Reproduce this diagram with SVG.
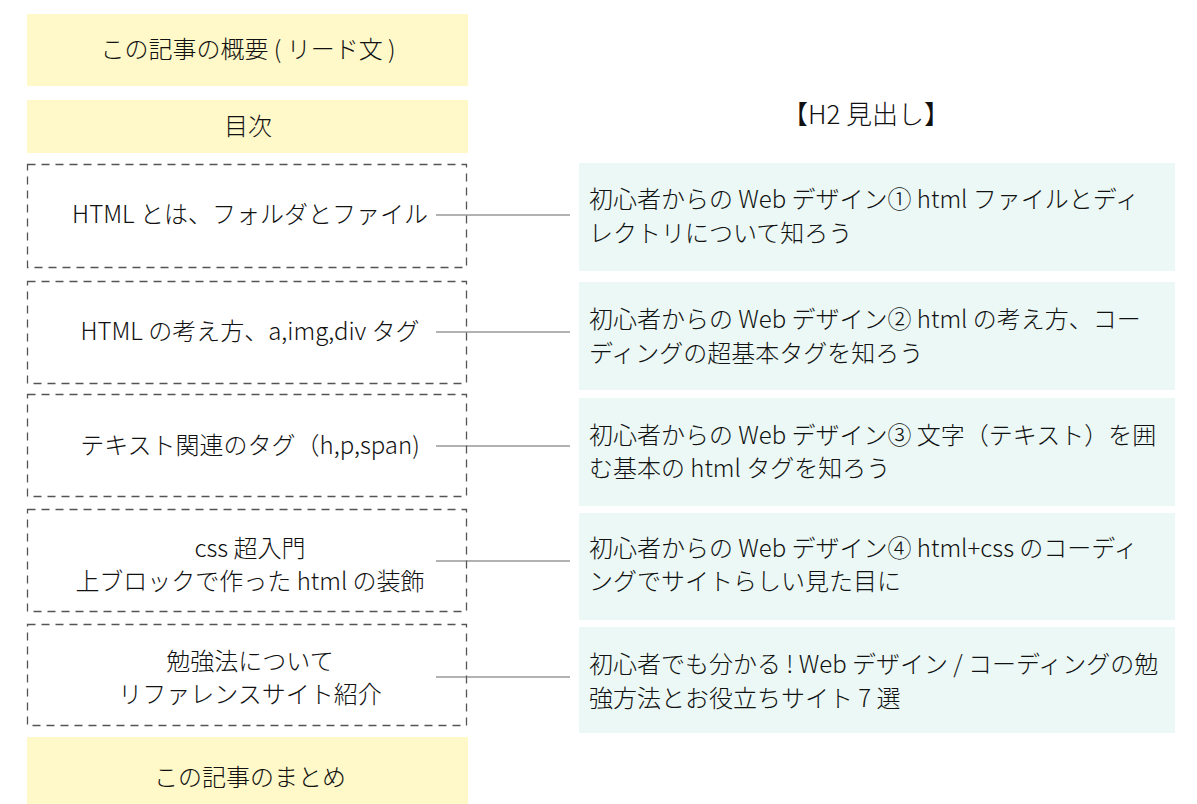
<svg xmlns="http://www.w3.org/2000/svg" width="1197" height="804" viewBox="0 0 1197 804">
<style>
.y{fill:#fff8c8}
.d{fill:none;stroke:#555;stroke-width:1.3;stroke-dasharray:8 6}
.h{fill:#ebf8f5}
text{font-family:"Noto Sans CJK JP","Noto Sans",sans-serif;font-size:24px;font-weight:300;fill:#111}
.c{text-anchor:middle}
.ln{stroke:#666;stroke-width:1.2}
</style>
<rect width="1197" height="804" fill="#ffffff"/>
<g id="lead"><rect class="y" x="27" y="14" width="441" height="72"/><text class="c" x="248" y="58">この記事の概要 ( リード文 )</text></g>
<g id="toc"><rect class="y" x="27" y="100" width="441" height="53"/><text class="c" x="248" y="135">目次</text></g>
<g id="heading"><text class="c" x="866" y="124" style="font-size:26px">【H2 見出し】</text></g>
<g id="s1"><rect class="d" x="27.5" y="164.5" width="439" height="103"/><text class="c" x="250" y="223">HTML とは、フォルダとファイル</text></g>
<g id="s2"><rect class="d" x="27.5" y="281.5" width="439" height="102"/><text class="c" x="250" y="340">HTML の考え方、a,img,div タグ</text></g>
<g id="s3"><rect class="d" x="27.5" y="394.5" width="439" height="102"/><text class="c" x="250" y="454">テキスト関連のタグ（h,p,span)</text></g>
<g id="s4"><rect class="d" x="27.5" y="509.5" width="439" height="102"/><text class="c" x="250" y="557">css 超入門</text><text class="c" x="250" y="590">上ブロックで作った html の装飾</text></g>
<g id="s5"><rect class="d" x="27.5" y="624.5" width="439" height="101"/><text class="c" x="250" y="670">勉強法について</text><text class="c" x="250" y="703">リファレンスサイト紹介</text></g>
<g id="summary"><rect class="y" x="27" y="737" width="441" height="67"/><text class="c" x="250" y="786">この記事のまとめ</text></g>
<g id="h1"><rect class="h" x="579" y="163" width="596" height="108"/><text x="589" y="208">初心者からの Web デザイン① html ファイルとディ</text><text x="589" y="242">レクトリについて知ろう</text></g>
<g id="h2"><rect class="h" x="579" y="282" width="596" height="108"/><text x="589" y="328">初心者からの Web デザイン② html の考え方、コー</text><text x="589" y="362">ディングの超基本タグを知ろう</text></g>
<g id="h3"><rect class="h" x="579" y="398" width="596" height="108"/><text x="589" y="444">初心者からの Web デザイン③ 文字（テキスト）を囲</text><text x="589" y="477">む基本の html タグを知ろう</text></g>
<g id="h4"><rect class="h" x="579" y="513" width="596" height="107"/><text x="589" y="557">初心者からの Web デザイン④ html+css のコーディ</text><text x="589" y="590">ングでサイトらしい見た目に</text></g>
<g id="h5"><rect class="h" x="579" y="627" width="596" height="106"/><text x="589" y="673">初心者でも分かる ! Web デザイン / コーディングの勉</text><text x="589" y="707">強方法とお役立ちサイト 7 選</text></g>
<g id="connectors">
<line class="ln" x1="436" y1="215" x2="570" y2="215"/>
<line class="ln" x1="436" y1="332" x2="570" y2="332"/>
<line class="ln" x1="436" y1="446" x2="570" y2="446"/>
<line class="ln" x1="436" y1="561" x2="570" y2="561"/>
<line class="ln" x1="436" y1="677" x2="570" y2="677"/>
</g>
</svg>
